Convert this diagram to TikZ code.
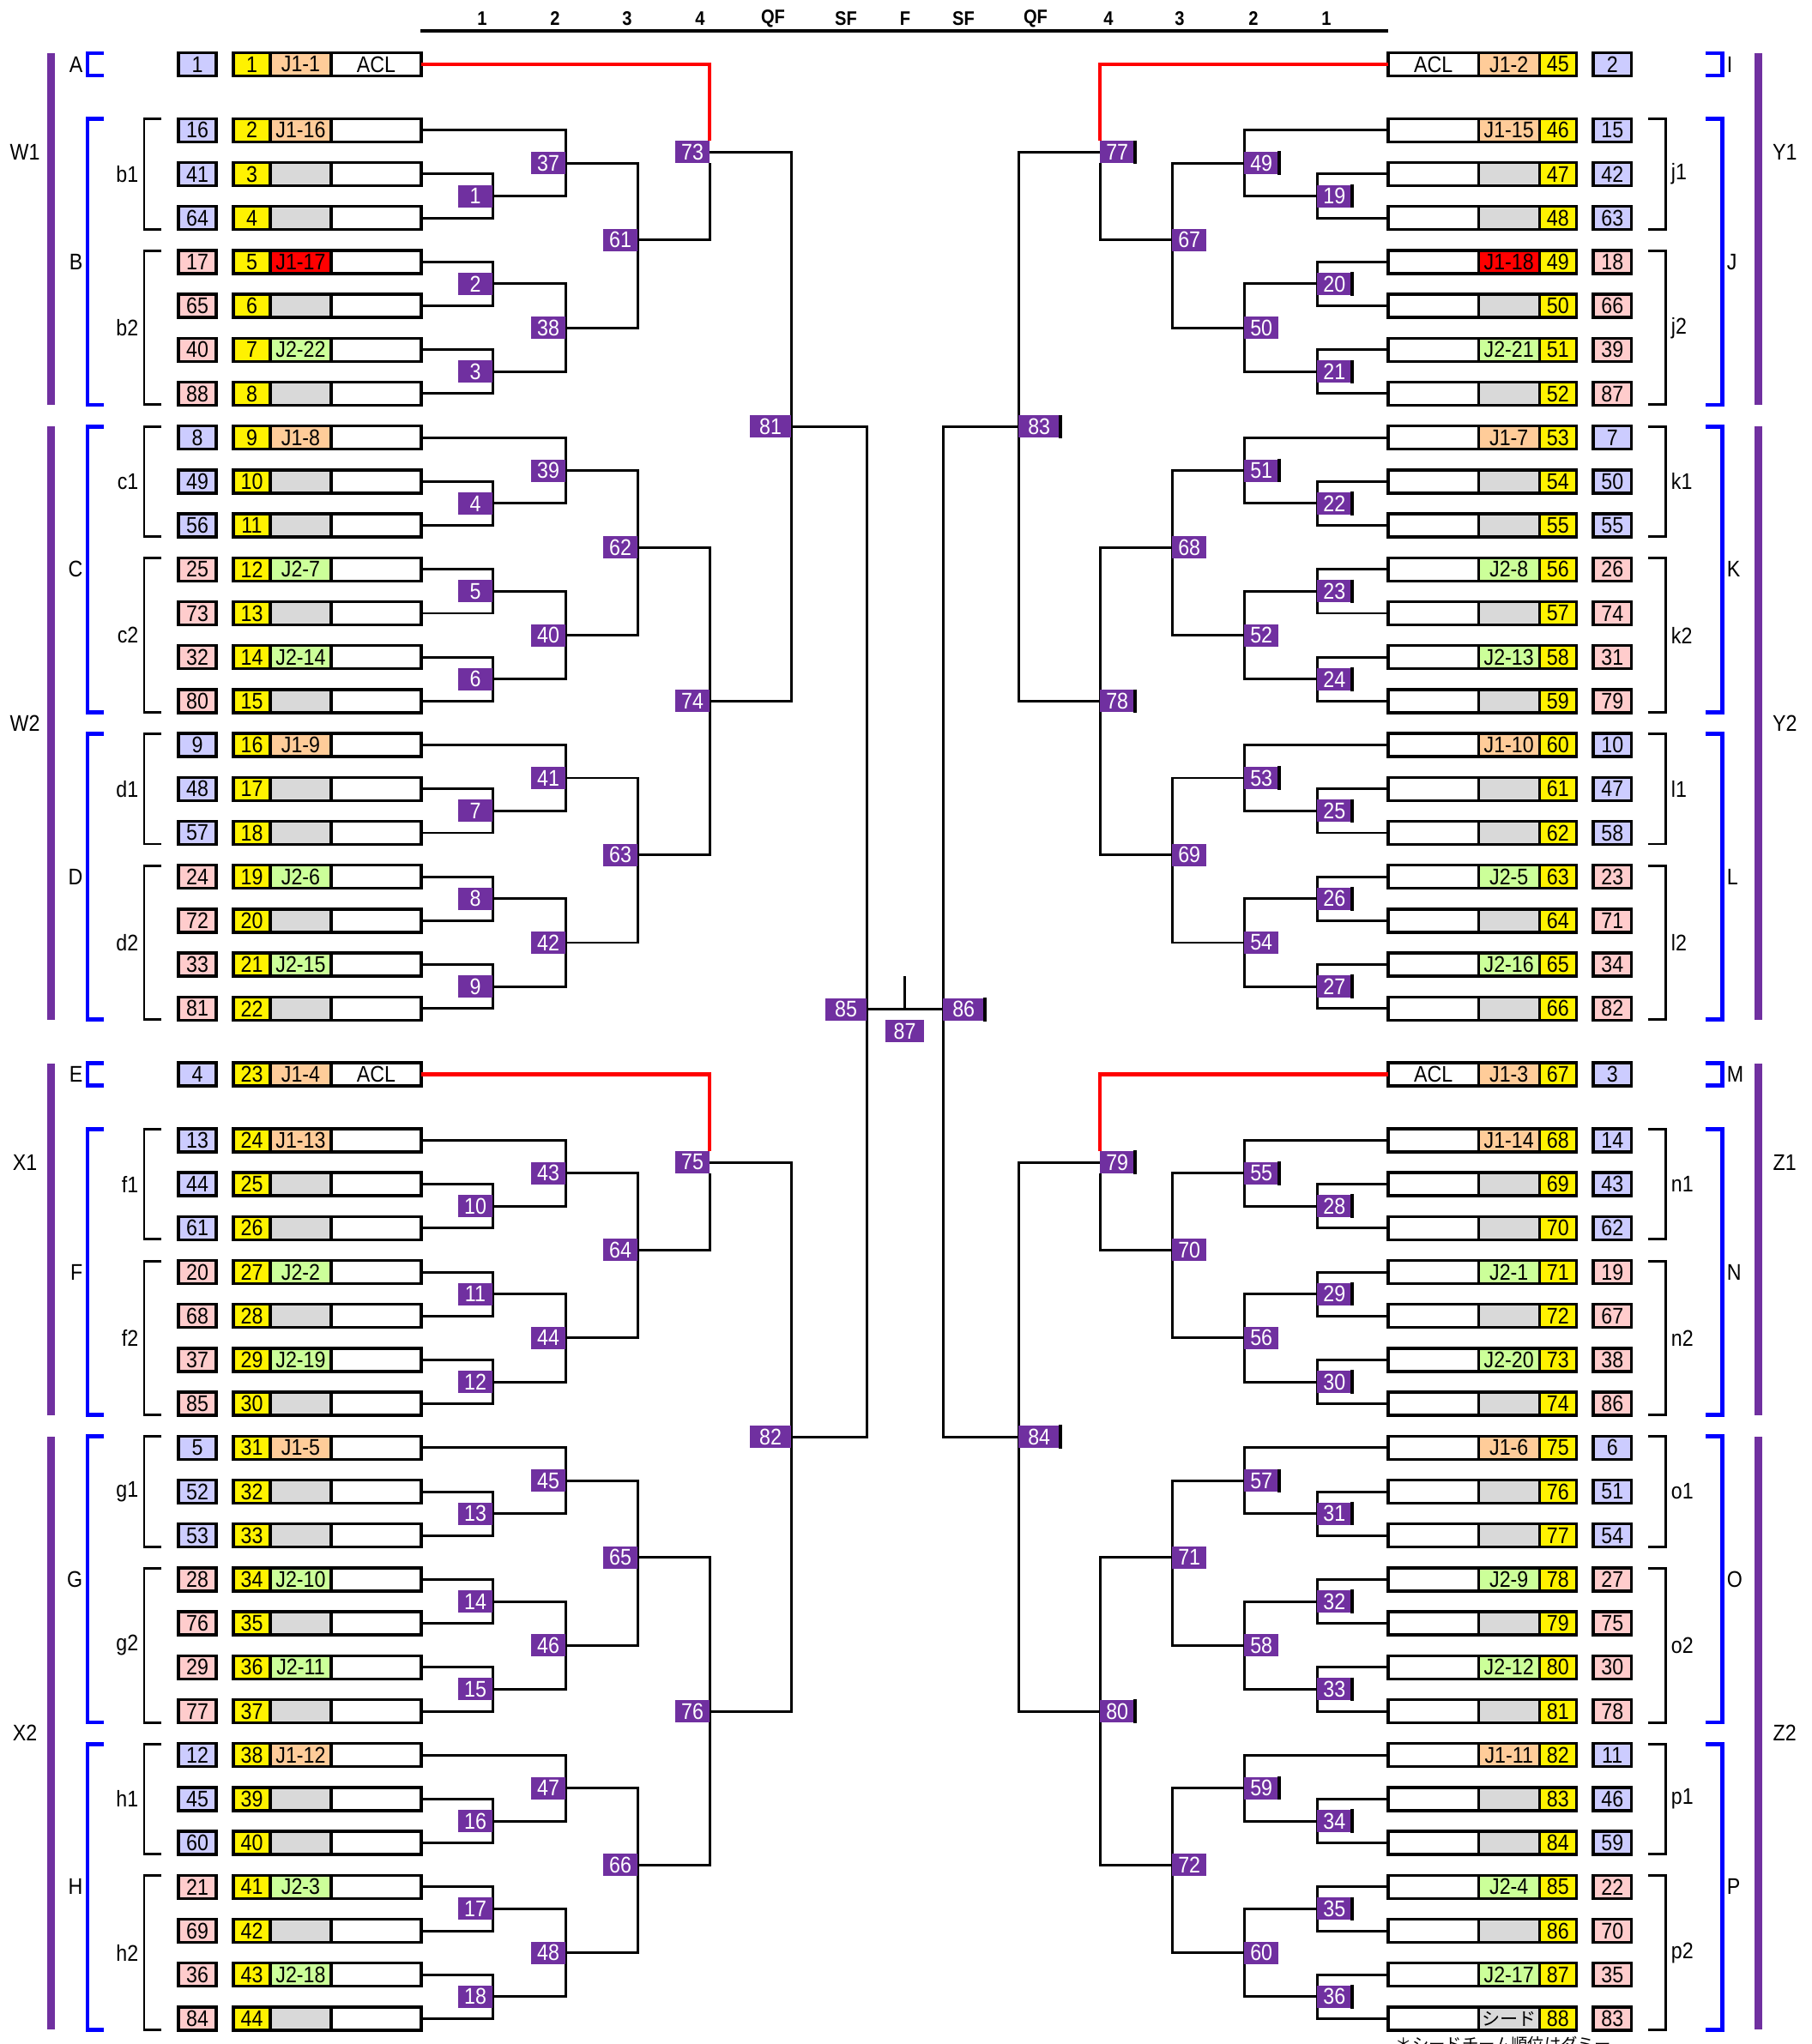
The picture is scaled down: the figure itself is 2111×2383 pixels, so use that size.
\documentclass[tikz,border=0pt]{standalone}
\usepackage{fontspec}
\setmainfont{Liberation Sans}
\newfontfamily\condfont[FakeStretch=0.88]{Liberation Sans}
\newfontfamily\cjkfont{Noto Sans CJK JP}
\usetikzlibrary{calc}

\definecolor{kpurple}{HTML}{7030A0}
\definecolor{kblue}{HTML}{CCCCFF}
\definecolor{kpink}{HTML}{FFCCCC}
\definecolor{korange}{HTML}{FFCC99}
\definecolor{kgreen}{HTML}{CCFF99}
\definecolor{kgray}{HTML}{D9D9D9}

\tikzset{wire/.style={line width=0.85pt},
  aclwire/.style={draw=red, line width=1.2pt},
  cell/.style={draw, line width=1pt, inner sep=0pt, minimum height=2.7mm, font=\condfont\fontsize{7.5}{8}\selectfont},
  mbox/.style={fill=kpurple, text=white, inner sep=0pt, minimum height=2.6mm, font=\condfont\fontsize{7.5}{8}\selectfont},
  grp/.style={inner sep=0pt, font=\condfont\fontsize{7.5}{8}\selectfont},
  hdr/.style={inner sep=0pt, font=\condfont\bfseries\fontsize{6.5}{7}\selectfont},
  bluebr/.style={draw=blue, line width=1.4pt},
  subbr/.style={line width=0.85pt}}

% slot / rank / team / team colour / rank colour / white cell
\newcommand\rowsL{1/1/J1-1/korange/kblue/ACL, 2/16/J1-16/korange/kblue/{}, 3/41/{}/kgray/kblue/{},
  4/64/{}/kgray/kblue/{}, 5/17/J1-17/red/kpink/{}, 6/65/{}/kgray/kpink/{}, 7/40/J2-22/kgreen/kpink/{},
  8/88/{}/kgray/kpink/{}, 9/8/J1-8/korange/kblue/{}, 10/49/{}/kgray/kblue/{}, 11/56/{}/kgray/kblue/{},
  12/25/J2-7/kgreen/kpink/{}, 13/73/{}/kgray/kpink/{}, 14/32/J2-14/kgreen/kpink/{}, 15/80/{}/kgray/kpink/{},
  16/9/J1-9/korange/kblue/{}, 17/48/{}/kgray/kblue/{}, 18/57/{}/kgray/kblue/{}, 19/24/J2-6/kgreen/kpink/{},
  20/72/{}/kgray/kpink/{}, 21/33/J2-15/kgreen/kpink/{}, 22/81/{}/kgray/kpink/{},
  23/4/J1-4/korange/kblue/ACL, 24/13/J1-13/korange/kblue/{}, 25/44/{}/kgray/kblue/{}, 26/61/{}/kgray/kblue/{},
  27/20/J2-2/kgreen/kpink/{}, 28/68/{}/kgray/kpink/{}, 29/37/J2-19/kgreen/kpink/{}, 30/85/{}/kgray/kpink/{},
  31/5/J1-5/korange/kblue/{}, 32/52/{}/kgray/kblue/{}, 33/53/{}/kgray/kblue/{}, 34/28/J2-10/kgreen/kpink/{},
  35/76/{}/kgray/kpink/{}, 36/29/J2-11/kgreen/kpink/{}, 37/77/{}/kgray/kpink/{}, 38/12/J1-12/korange/kblue/{},
  39/45/{}/kgray/kblue/{}, 40/60/{}/kgray/kblue/{}, 41/21/J2-3/kgreen/kpink/{}, 42/69/{}/kgray/kpink/{},
  43/36/J2-18/kgreen/kpink/{}, 44/84/{}/kgray/kpink/{}}
\newcommand\rowsR{1/2/J1-2/korange/kblue/ACL, 2/15/J1-15/korange/kblue/{}, 3/42/{}/kgray/kblue/{},
  4/63/{}/kgray/kblue/{}, 5/18/J1-18/red/kpink/{}, 6/66/{}/kgray/kpink/{}, 7/39/J2-21/kgreen/kpink/{},
  8/87/{}/kgray/kpink/{}, 9/7/J1-7/korange/kblue/{}, 10/50/{}/kgray/kblue/{}, 11/55/{}/kgray/kblue/{},
  12/26/J2-8/kgreen/kpink/{}, 13/74/{}/kgray/kpink/{}, 14/31/J2-13/kgreen/kpink/{}, 15/79/{}/kgray/kpink/{},
  16/10/J1-10/korange/kblue/{}, 17/47/{}/kgray/kblue/{}, 18/58/{}/kgray/kblue/{}, 19/23/J2-5/kgreen/kpink/{},
  20/71/{}/kgray/kpink/{}, 21/34/J2-16/kgreen/kpink/{}, 22/82/{}/kgray/kpink/{},
  23/3/J1-3/korange/kblue/ACL, 24/14/J1-14/korange/kblue/{}, 25/43/{}/kgray/kblue/{}, 26/62/{}/kgray/kblue/{},
  27/19/J2-1/kgreen/kpink/{}, 28/67/{}/kgray/kpink/{}, 29/38/J2-20/kgreen/kpink/{}, 30/86/{}/kgray/kpink/{},
  31/6/J1-6/korange/kblue/{}, 32/51/{}/kgray/kblue/{}, 33/54/{}/kgray/kblue/{}, 34/27/J2-9/kgreen/kpink/{},
  35/75/{}/kgray/kpink/{}, 36/30/J2-12/kgreen/kpink/{}, 37/78/{}/kgray/kpink/{}, 38/11/J1-11/korange/kblue/{},
  39/46/{}/kgray/kblue/{}, 40/59/{}/kgray/kblue/{}, 41/22/J2-4/kgreen/kpink/{}, 42/70/{}/kgray/kpink/{},
  43/35/J2-17/kgreen/kpink/{}, 44/83/{\cjkfont\fontsize{6}{7}\selectfont シード}/kgray/kpink/{}}

% match / row / column x / inputs / right label / width / bar / red input
\newcommand\matchlist{1/3/574/o3/o4/19/4/1/0, 37/2.25/659/o2/j1/49/4/1/0, 2/5/574/o5/o6/20/4/1/0,
  3/7/574/o7/o8/21/4/1/0, 38/6/659/j2/j3/50/4/0/0, 61/4/743/j37/j38/67/4/0/0, 73/2/827/o1/j61/77/4/1/1,
  4/10/574/o10/o11/22/4/1/0, 39/9.25/659/o9/j4/51/4/1/0, 5/12/574/o12/o13/23/4/1/0, 6/14/574/o14/o15/24/4/1/0,
  40/13/659/j5/j6/52/4/0/0, 62/11/743/j39/j40/68/4/0/0, 7/17/574/o17/o18/25/4/1/0, 41/16.25/659/o16/j7/53/4/1/0,
  8/19/574/o19/o20/26/4/1/0, 9/21/574/o21/o22/27/4/1/0, 42/20/659/j8/j9/54/4/0/0, 63/18/743/j41/j42/69/4/0/0,
  74/14.5/827/j62/j63/78/4/1/0, 81/8.25/922/j73/j74/83/4.8/1/0,
  10/26/574/o25/o26/28/4/1/0, 43/25.25/659/o24/j10/55/4/1/0, 11/28/574/o27/o28/29/4/1/0, 12/30/574/o29/o30/30/4/1/0,
  44/29/659/j11/j12/56/4/0/0, 64/27/743/j43/j44/70/4/0/0, 75/25/827/o23/j64/79/4/1/1,
  13/33/574/o32/o33/31/4/1/0, 45/32.25/659/o31/j13/57/4/1/0, 14/35/574/o34/o35/32/4/1/0, 15/37/574/o36/o37/33/4/1/0,
  46/36/659/j14/j15/58/4/0/0, 65/34/743/j45/j46/71/4/0/0, 16/40/574/o39/o40/34/4/1/0, 47/39.25/659/o38/j16/59/4/1/0,
  17/42/574/o41/o42/35/4/1/0, 18/44/574/o43/o44/36/4/1/0, 48/43/659/j17/j18/60/4/0/0, 66/41/743/j47/j48/72/4/0/0,
  76/37.5/827/j65/j66/80/4/1/0, 82/31.25/922/j75/j76/84/4.8/1/0, 85/21.52/1010/j81/j82/86/4.8/1/0}

% one half of the draw: #1 side, #2 shift, #3 scale, #4 slot offset, #5 label anchor, #6 rows
\newcommand\bracketside[6]{%
  \begin{scope}[xshift=#2, xscale=#3]
    % pools
    \foreach \ga/\gb/\gl/\gr/\gt in {1/8/W1/Y1/2, 9/22/W2/Y2/15, 23/30/X1/Z1/25, 31/44/X2/Z2/38} {
      \fill[kpurple] (55,{ry(\ga)-13}) rectangle (64,{ry(\gb)+13});
      \node[grp] (#1pool\ga) at (29,{75+51.2*\gt}) {\ifnum#3>0 \gl\else\gr\fi};
    }
    % blocks
    \foreach \ga/\gb/\gl/\gr in {1/1/A/I, 2/8/B/J, 9/15/C/K, 16/22/D/L, 23/23/E/M, 24/30/F/N, 31/37/G/O, 38/44/H/P} {
      \draw[bluebr] (121,{ry(\ga)-13}) -- (102,{ry(\ga)-13}) -- (102,{ry(\gb)+13}) -- (121,{ry(\gb)+13});
      \node[grp, anchor=#5] (#1blk\ga) at (97,{(ry(\ga)+ry(\gb))/2}) {\ifnum#3>0 \gl\else\gr\fi};
    }
    \foreach \ga/\gb/\gl/\gr in {2/4/b1/j1, 5/8/b2/j2, 9/11/c1/k1, 12/15/c2/k2, 16/18/d1/l1, 19/22/d2/l2,
        24/26/f1/n1, 27/30/f2/n2, 31/33/g1/o1, 34/37/g2/o2, 38/40/h1/p1, 41/44/h2/p2} {
      \draw[subbr] (188,{ry(\ga)-13}) -- (168,{ry(\ga)-13}) -- (168,{ry(\gb)+13}) -- (188,{ry(\gb)+13});
      \node[grp, anchor=#5] (#1sub\ga) at (162,{(ry(\ga)+ry(\gb))/2}) {\ifnum#3>0 \gl\else\gr\fi};
    }
    % teams
    \foreach \ri/\rnk/\team/\tcol/\rcol/\extra in #6 {
      \pgfmathsetmacro\yy{ry(\ri)}
      \pgfmathtruncatemacro\sn{\ri+#4}
      \node[cell, fill=\rcol, minimum width=4.4mm] (#1r\ri) at (230,\yy) {\rnk};
      \node[cell, fill=yellow, minimum width=4.3mm] (#1s\ri) at (293.5,\yy) {\sn};
      \node[cell, fill=\tcol, minimum width=7.1mm] (#1t\ri) at (350.5,\yy) {\team};
      \node[cell, fill=white, minimum width=10.5mm] (#1w\ri) at (438.5,\yy) {\extra};
      \coordinate (#1o\ri) at (491,\yy);
    }
    % matches
    \foreach \mk/\mt/\mx/\ina/\inb/\rlab/\mw/\hasbar/\isred in \matchlist {
      \pgfmathsetmacro\my{75+51.2*\mt}
      \coordinate (#1j\mk) at (\mx,\my);
      \coordinate (#1u\mk) at (\mx,{\my-13});
      \coordinate (#1d\mk) at (\mx,{\my+13});
      \ifnum\isred=1
        \draw[aclwire] (#1\ina) -| (#1u\mk);
        \draw[wire] (#1\inb) -| (#1d\mk);
      \else
        \draw[wire] (#1\ina) -| (#1j\mk) |- (#1\inb);
      \fi
      \node[mbox, minimum width=\mw mm] (#1n\mk) at ({\mx-5*\mw},\my) {\ifnum#3>0 \mk\else\rlab\fi};
      \ifnum#3<0 \ifnum\hasbar=1
        \draw[line width=1.3pt] (#1n\mk.north east) -- (#1n\mk.south east);
      \fi\fi
    }
  \end{scope}}

\begin{document}
\begin{tikzpicture}[x=0.01cm, y=-0.01cm,
  declare function={ry(\n)=75+51.2*(\n-1+0.5*(\n>1)+0.5*(\n>22)+0.5*(\n>23));}]
  \useasboundingbox (0,0) rectangle (2111,2383);
  % rounds
  \foreach \hx/\hl in {562/1, 647/2, 731/3, 816/4, 901/QF, 986/SF, 1055/F, 1123/SF, 1207/QF, 1292/4, 1375/3, 1461/2, 1546/1}
    \node[hdr] (hd\hx) at (\hx,22) {\hl};
  \draw[line width=1.4pt] (490,36) -- (1618,36);
  % both halves
  \bracketside{L}{0cm}{1}{0}{east}{\rowsL}
  \bracketside{R}{21.08cm}{-1}{44}{west}{\rowsR}
  % final
  \coordinate (stemtop) at (1054,1138);
  \draw[wire] (Lj85) -- (Rj85);
  \draw[wire] (stemtop) -- (stemtop |- Lj85);
  \node[mbox, minimum width=4.5mm] (n87) at (1054.5,1202) {87};
  \node[anchor=north west, inner sep=0pt, font=\cjkfont\fontsize{5.5}{6}\selectfont] (note) at (1626,2373) {＊シードチーム順位はダミー};
\end{tikzpicture}
\end{document}
